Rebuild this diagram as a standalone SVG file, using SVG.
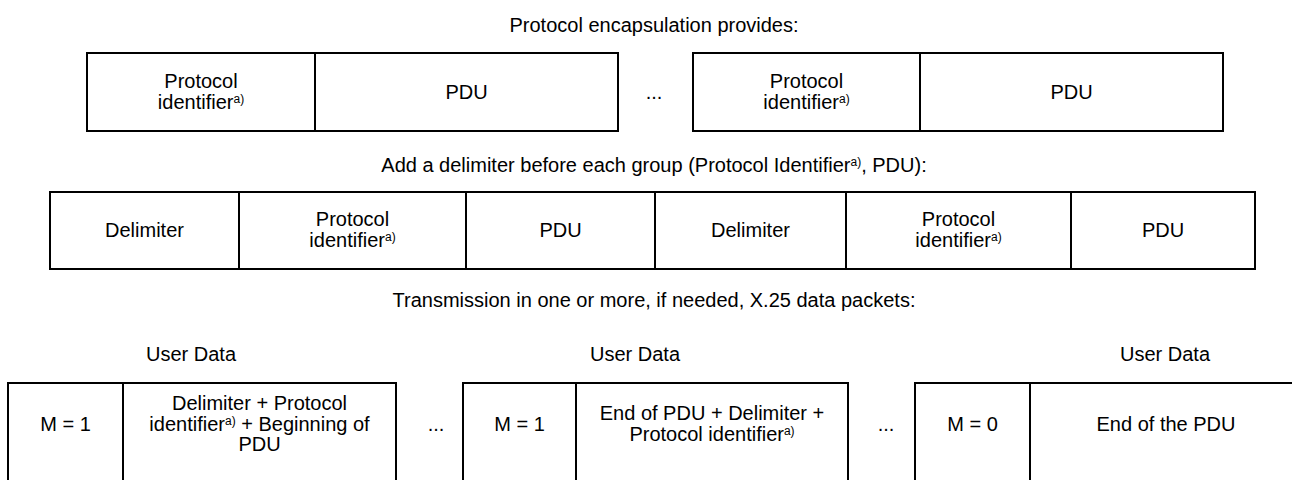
<svg xmlns="http://www.w3.org/2000/svg" width="1292" height="480" viewBox="0 0 1292 480">
<style>
text{font-family:"Liberation Sans",Arial,sans-serif;font-size:20px;fill:#000;text-anchor:middle}
.sup{font-size:12px}
.box{fill:#fff;stroke:#000;stroke-width:2}
.div{stroke:#000;stroke-width:2}
</style>
<rect width="1292" height="480" fill="#fff"/>
<g id="headings">
<text x="654" y="32">Protocol encapsulation provides:</text>
<text x="654" y="172">Add a delimiter before each group (Protocol Identifier<tspan class="sup" dy="-6">a)</tspan><tspan dy="6">, PDU):</tspan></text>
<text x="654" y="307">Transmission in one or more, if needed, X.25 data packets:</text>
<text x="191" y="361">User Data</text>
<text x="635" y="361">User Data</text>
<text x="1165" y="361">User Data</text>
</g>
<g id="row1-group1">
<rect class="box" x="87" y="53" width="531" height="78"/>
<line class="div" x1="315" y1="53" x2="315" y2="131"/>
<text x="201" y="88">Protocol</text>
<text x="201" y="109">identifier<tspan class="sup" dy="-6">a)</tspan></text>
<text x="466.5" y="99">PDU</text>
</g>
<text id="row1-ellipsis" x="654" y="99">...</text>
<g id="row1-group2">
<rect class="box" x="693" y="53" width="530" height="78"/>
<line class="div" x1="920" y1="53" x2="920" y2="131"/>
<text x="806.5" y="88">Protocol</text>
<text x="806.5" y="109">identifier<tspan class="sup" dy="-6">a)</tspan></text>
<text x="1071.5" y="99">PDU</text>
</g>
<g id="row2-frame">
<rect class="box" x="50" y="192" width="1205" height="77"/>
<line class="div" x1="239" y1="192" x2="239" y2="269"/>
<line class="div" x1="466" y1="192" x2="466" y2="269"/>
<line class="div" x1="655" y1="192" x2="655" y2="269"/>
<line class="div" x1="846" y1="192" x2="846" y2="269"/>
<line class="div" x1="1071" y1="192" x2="1071" y2="269"/>
<text x="144.5" y="237">Delimiter</text>
<text x="352.5" y="226">Protocol</text>
<text x="352.5" y="247">identifier<tspan class="sup" dy="-6">a)</tspan></text>
<text x="560.5" y="237">PDU</text>
<text x="750.5" y="237">Delimiter</text>
<text x="958.5" y="226">Protocol</text>
<text x="958.5" y="247">identifier<tspan class="sup" dy="-6">a)</tspan></text>
<text x="1163" y="237">PDU</text>
</g>
<g id="packet1">
<rect class="box" x="8" y="383" width="388" height="130"/>
<line class="div" x1="123" y1="383" x2="123" y2="513"/>
<text x="65.5" y="431">M = 1</text>
<text x="259.5" y="410">Delimiter + Protocol</text>
<text x="259.5" y="431">identifier<tspan class="sup" dy="-6">a)</tspan><tspan dy="6"> + Beginning of</tspan></text>
<text x="259.5" y="451">PDU</text>
</g>
<text id="row3-ellipsis1" x="436" y="431">...</text>
<g id="packet2">
<rect class="box" x="463" y="383" width="385" height="130"/>
<line class="div" x1="576" y1="383" x2="576" y2="513"/>
<text x="519.5" y="431">M = 1</text>
<text x="712" y="420">End of PDU + Delimiter +</text>
<text x="712" y="441">Protocol identifier<tspan class="sup" dy="-6">a)</tspan></text>
</g>
<text id="row3-ellipsis2" x="886" y="431">...</text>
<g id="packet3">
<rect class="box" x="915" y="383" width="420" height="130"/>
<line class="div" x1="1030" y1="383" x2="1030" y2="513"/>
<text x="972.5" y="431">M = 0</text>
<text x="1166" y="431">End of the PDU</text>
</g>
<g id="connectors"/>
</svg>
